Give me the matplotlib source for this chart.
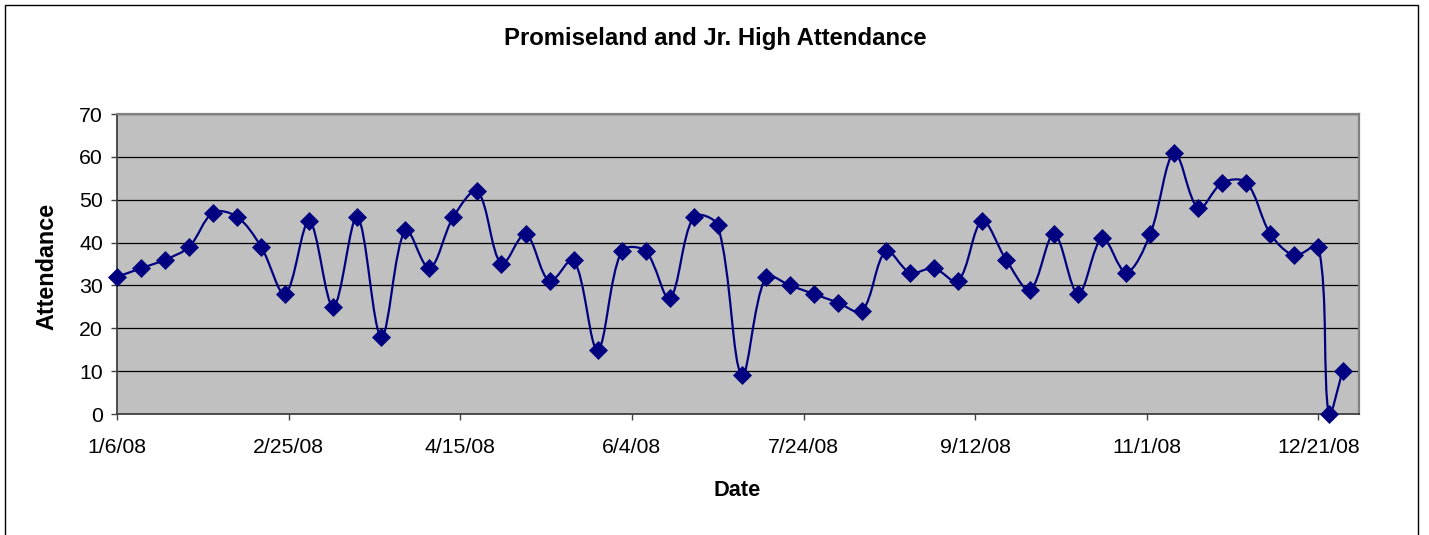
import matplotlib
matplotlib.use('Agg')
import matplotlib.pyplot as plt
import matplotlib.dates as mdates
from matplotlib.path import Path
from matplotlib.patches import PathPatch, Rectangle
import numpy as np
import datetime as dt

plt.rcParams['font.family'] = ['Liberation Sans', 'DejaVu Sans']

# ---- data ----
dates = [
    "2008-01-06", "2008-01-13", "2008-01-20", "2008-01-27",
    "2008-02-03", "2008-02-10", "2008-02-17", "2008-02-24",
    "2008-03-02", "2008-03-09", "2008-03-16", "2008-03-23", "2008-03-30",
    "2008-04-06", "2008-04-13", "2008-04-20", "2008-04-27",
    "2008-05-04", "2008-05-11", "2008-05-18", "2008-05-25",
    "2008-06-01", "2008-06-08", "2008-06-15", "2008-06-22", "2008-06-29",
    "2008-07-06", "2008-07-13", "2008-07-20", "2008-07-27",
    "2008-08-03", "2008-08-10", "2008-08-17", "2008-08-24", "2008-08-31",
    "2008-09-07", "2008-09-14", "2008-09-21", "2008-09-28",
    "2008-10-05", "2008-10-12", "2008-10-19", "2008-10-26",
    "2008-11-02", "2008-11-09", "2008-11-16", "2008-11-23", "2008-11-30",
    "2008-12-07", "2008-12-14", "2008-12-21", "2008-12-24", "2008-12-28",
]
attendance = [
    32, 34, 36, 39,
    47, 46, 39, 28,
    45, 25, 46, 18, 43,
    34, 46, 52, 35,
    42, 31, 36, 15,
    38, 38, 27, 46, 44,
    9, 32, 30, 28,
    26, 24, 38, 33, 34,
    31, 45, 36, 29,
    42, 28, 41, 33,
    42, 61, 48, 54, 54,
    42, 37, 39, 0, 10,
]
tick_dates = ["2008-01-06", "2008-02-25", "2008-04-15", "2008-06-04",
              "2008-07-24", "2008-09-12", "2008-11-01", "2008-12-21"]
tick_labels = ["1/6/08", "2/25/08", "4/15/08", "6/4/08",
               "7/24/08", "9/12/08", "11/1/08", "12/21/08"]
y_ticks = [0, 10, 20, 30, 40, 50, 60, 70]

title = "Promiseland and Jr. High Attendance"
xlabel = "Date"
ylabel = "Attendance"

# ---- figure ----
W, H = 1429, 535
fig = plt.figure(figsize=(W / 100, H / 100), dpi=100)
fig.patch.set_facecolor('white')

# chart-area border
fig.patches.append(Rectangle((5 / W, -0.05), (1418 - 5) / W, 1.05 - 5 / H,
                             transform=fig.transFigure, fill=False,
                             edgecolor='black', linewidth=1.0, zorder=0))

ax = fig.add_axes([117 / W, 1 - 414 / H, (1359 - 117) / W, (414 - 114) / H])
ax.set_facecolor('#C0C0C0')

x = mdates.date2num([dt.datetime.strptime(d, "%Y-%m-%d") for d in dates])
y = np.array(attendance, dtype=float)

x0 = mdates.date2num(dt.datetime(2008, 1, 6))
ax.set_xlim(x0, x0 + 361.8)
ax.set_ylim(0, 70)

# Excel-style smoothed line: cubic Bezier with chord-length scaled tangents,
# computed in display space and mapped back through the axes transform
pts = ax.transData.transform(np.column_stack([x, y]))
n = len(pts)
seg = np.hypot(*np.diff(pts, axis=0).T)
disp_verts = [pts[0]]
codes = [Path.MOVETO]
for i in range(n - 1):
    p0 = pts[max(i - 1, 0)]
    p1 = pts[i]
    p2 = pts[i + 1]
    p3 = pts[min(i + 2, n - 1)]
    d01 = seg[i - 1] if i > 0 else 0.0
    d12 = seg[i]
    d23 = seg[i + 1] if i + 1 < n - 1 else 0.0
    f1 = d12 / (d01 + d12) / 3.0 if i > 0 else 1 / 6.0
    f2 = d12 / (d12 + d23) / 3.0 if i + 1 < n - 1 else 1 / 6.0
    c1 = p1 + (p2 - p0) * f1
    c2 = p2 - (p3 - p1) * f2
    disp_verts += [c1, c2, p2]
    codes += [Path.CURVE4] * 3
data_verts = ax.transData.inverted().transform(np.array(disp_verts))
ax.add_patch(PathPatch(Path(data_verts, codes), fill=False, edgecolor='#000080',
                       linewidth=1.6, zorder=3, capstyle='round', joinstyle='round'))
ax.plot(x, y, linestyle='none', marker='D', markersize=9,
        color='#000080', markeredgewidth=0.5, zorder=4, clip_on=False)

ax.set_yticks(y_ticks)
ax.set_yticklabels([str(v) for v in y_ticks])
tx = mdates.date2num([dt.datetime.strptime(d, "%Y-%m-%d") for d in tick_dates])
ax.set_xticks(tx)
ax.set_xticklabels(tick_labels)

ax.grid(axis='y', color='black', linewidth=0.9, zorder=1)
ax.set_axisbelow(True)

for s in ['top', 'right']:
    ax.spines[s].set_color('#808080')
    ax.spines[s].set_linewidth(1.6)
for s in ['left', 'bottom']:
    ax.spines[s].set_color('#404040')
    ax.spines[s].set_linewidth(1.3)

ax.tick_params(axis='both', direction='out', length=4, width=1, color='#404040',
               labelsize=15.3, labelcolor='black')
ax.tick_params(axis='x', pad=13)
ax.tick_params(axis='y', pad=6)

fig.text(715 / W, 1 - 39 / H, title, ha='center', va='center',
         fontsize=17.2, fontweight='bold')
fig.text(737 / W, 1 - 490 / H, xlabel, ha='center', va='center',
         fontsize=15.7, fontweight='bold')
fig.text(47 / W, 1 - 266 / H, ylabel, ha='center', va='center',
         fontsize=16.8, fontweight='bold', rotation=90)

fig.savefig('out.png', dpi=100, facecolor='white')
